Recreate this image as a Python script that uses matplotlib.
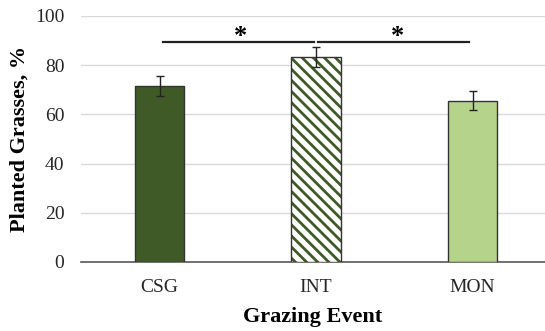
import matplotlib.pyplot as plt

# Planted grasses by grazing event (mean ± SE)
events = ['CSG', 'INT', 'MON']
planted = [71.5, 83.2, 65.6]
errors = [4.2, 4.0, 3.9]
bracket_y = 89.3

plt.rcParams['font.family'] = ['Liberation Serif', 'DejaVu Serif']
plt.rcParams['hatch.linewidth'] = 2.0

fig = plt.figure(figsize=(5.45, 3.31), dpi=100)
ax = fig.add_axes([81 / 545, 69 / 331, 464 / 545, 246 / 331])

x = list(range(len(events)))
fills = ['#3F5A26', 'white', '#B5D38A']
hatches = [None, '\\\\\\', None]
for i in x:
    # fill (and hatch in green), then a separate dark outline
    ax.bar(i, planted[i], width=0.315, color=fills[i], edgecolor='#3F5A26',
           linewidth=0, hatch=hatches[i], zorder=3)
    ax.bar(i, planted[i], width=0.315, fill=False, edgecolor='#333333',
           linewidth=1.0, zorder=3.5)
ax.errorbar(x, planted, yerr=errors, fmt='none', ecolor='#222222',
            elinewidth=1.0, capsize=2.8, capthick=1.0, zorder=4)

# significance brackets
ax.plot([0.02, 0.99], [bracket_y, bracket_y], color='#222222', lw=1.6, zorder=4)
ax.plot([1.01, 1.98], [bracket_y, bracket_y], color='#222222', lw=1.6, zorder=4)
ax.text(0.52, 89.2, '*', ha='center', va='baseline', fontsize=19, fontweight='bold')
ax.text(1.52, 89.2, '*', ha='center', va='baseline', fontsize=19, fontweight='bold')

ax.set_xlim(-0.502, 2.463)
ax.set_ylim(0, 100)
ax.set_yticks([0, 20, 40, 60, 80, 100])
ax.set_xticks(x)
ax.set_xticklabels(events)
ax.yaxis.grid(True, color='#D9D9D9', lw=1.0, zorder=0)
ax.set_axisbelow(True)

for s in ['top', 'right', 'left']:
    ax.spines[s].set_visible(False)
ax.spines['bottom'].set_color('#595959')
ax.spines['bottom'].set_linewidth(1.2)
ax.tick_params(axis='both', length=0, labelsize=14, colors='#262626')
ax.tick_params(axis='y', pad=12)
ax.tick_params(axis='x', pad=12)

ax.set_xlabel('Grazing Event', fontsize=16, fontweight='bold', labelpad=8)
ax.set_ylabel('Planted Grasses, %', fontsize=16, fontweight='bold', labelpad=4)

fig.savefig('out.png', dpi=100)
